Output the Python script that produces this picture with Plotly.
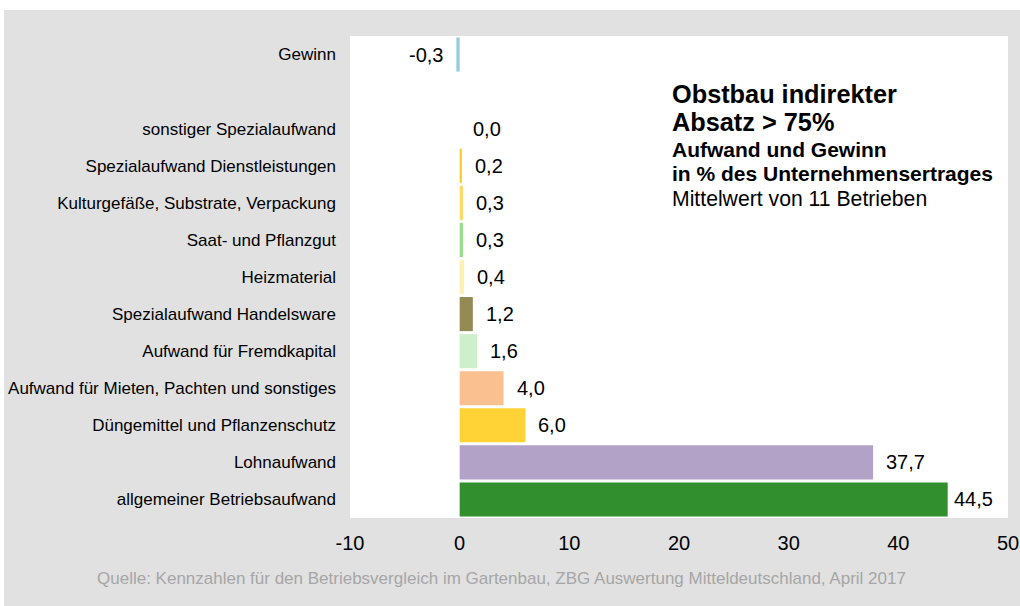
import plotly.graph_objects as go

# Data (top to bottom as shown)
categories = [
    "Gewinn",
    "sonstiger Spezialaufwand",
    "Spezialaufwand Dienstleistungen",
    "Kulturgefäße, Substrate, Verpackung",
    "Saat- und Pflanzgut",
    "Heizmaterial",
    "Spezialaufwand Handelsware",
    "Aufwand für Fremdkapital",
    "Aufwand für Mieten, Pachten und sonstiges",
    "Düngemittel und Pflanzenschutz",
    "Lohnaufwand",
    "allgemeiner Betriebsaufwand",
]
values = [-0.3, 0.0, 0.2, 0.3, 0.3, 0.4, 1.2, 1.6, 4.0, 6.0, 37.7, 44.5]
colors = [
    "#93CDDD", "#D9D9D9", "#FFC926", "#FFD966", "#98DB8F", "#FFF0B3",
    "#948A54", "#CDEFCB", "#FAC090", "#FFD335", "#B3A2C7", "#31902D",
]
x_ticks = [-10, 0, 10, 20, 30, 40, 50]

# Positions: expenses stacked from bottom, one empty slot before "Gewinn"
n = len(categories)
ypos = []
for i in range(n):
    if i == 0:
        ypos.append(n)  # gap slot at n-1
    else:
        ypos.append(n - 1 - i)

font_family = "Liberation Sans, Arial, sans-serif"

fig = go.Figure()
fig.add_trace(go.Bar(
    x=values,
    y=ypos,
    orientation="h",
    width=0.92,
    marker=dict(color=colors, line=dict(width=0)),
    hoverinfo="skip",
))

annotations = []
for v, y in zip(values, ypos):
    label = f"{v:.1f}".replace(".", ",")
    if v < 0:
        annotations.append(dict(x=v, y=y, xref="x", yref="y", text=label,
                                xanchor="right", yanchor="middle", xshift=-11,
                                showarrow=False, font=dict(size=20, color="#000000")))
    else:
        shift = 11 if v < 40 else 4
        annotations.append(dict(x=v, y=y, xref="x", yref="y", text=label,
                                xanchor="left", yanchor="middle", xshift=shift,
                                showarrow=False, font=dict(size=20, color="#000000")))

# Title block (inside the plot area, upper right)
title_lines = [
    ("<b>Obstbau indirekter</b>", 25.3, 94),
    ("<b>Absatz &gt; 75%</b>", 25.3, 122),
    ("<b>Aufwand und Gewinn</b>", 21, 149),
    ("<b>in % des Unternehmensertrages</b>", 21, 173),
    ("Mittelwert von 11 Betrieben", 21.2, 198),
]
plot_top, plot_bottom, plot_left, plot_right = 36, 518, 350, 1008
for txt, size, py in title_lines:
    annotations.append(dict(
        x=(670 - plot_left) / (plot_right - plot_left),
        y=(plot_bottom - py) / (plot_bottom - plot_top),
        xref="paper", yref="paper", text=txt, showarrow=False,
        xanchor="left", yanchor="middle",
        font=dict(size=size, color="#000000", family=font_family),
    ))

annotations.append(dict(
    x=(501 - plot_left) / (plot_right - plot_left),
    y=(plot_bottom - 578) / (plot_bottom - plot_top),
    xref="paper", yref="paper",
    text="Quelle: Kennzahlen für den Betriebsvergleich im Gartenbau, ZBG Auswertung Mitteldeutschland, April 2017",
    showarrow=False, xanchor="center", yanchor="middle",
    font=dict(size=17, color="#A6A6A6", family=font_family),
))

pw = plot_right - plot_left
ph = plot_bottom - plot_top
shapes = [
    # grey background panel
    dict(type="rect", xref="paper", yref="paper", layer="below",
         x0=(4 - plot_left) / pw, x1=(1020 - plot_left) / pw,
         y0=(plot_bottom - 606) / ph, y1=(plot_bottom - 10) / ph,
         fillcolor="#E1E1E1", line=dict(width=0)),
    # white plot area
    dict(type="rect", xref="paper", yref="paper", layer="below",
         x0=0, x1=1, y0=0, y1=1,
         fillcolor="#FFFFFF", line=dict(width=0)),
]

fig.update_layout(
    width=1020, height=606,
    autosize=False,
    margin=dict(l=plot_left, r=1020 - plot_right, t=plot_top, b=606 - plot_bottom, pad=0),
    paper_bgcolor="#FFFFFF",
    plot_bgcolor="#FFFFFF",
    font=dict(family=font_family, color="#000000"),
    showlegend=False,
    annotations=annotations,
    shapes=shapes,
    bargap=0.08,
)
fig.update_xaxes(
    range=[-10, 50], tickvals=x_ticks, ticktext=[str(t) for t in x_ticks],
    showgrid=False, zeroline=False, showline=False, ticks="", automargin=False,
    tickfont=dict(size=20, color="#000000"), ticklabelstandoff=11,
)
fig.update_yaxes(
    range=[-0.5, n + 0.5], tickvals=ypos, ticktext=categories,
    showgrid=False, zeroline=False, showline=False, ticks="", automargin=False,
    tickfont=dict(size=17, color="#000000"), ticklabelstandoff=13,
)

fig.write_html("out.html", config={"displayModeBar": False},
               post_script="document.body.style.margin='0';")
